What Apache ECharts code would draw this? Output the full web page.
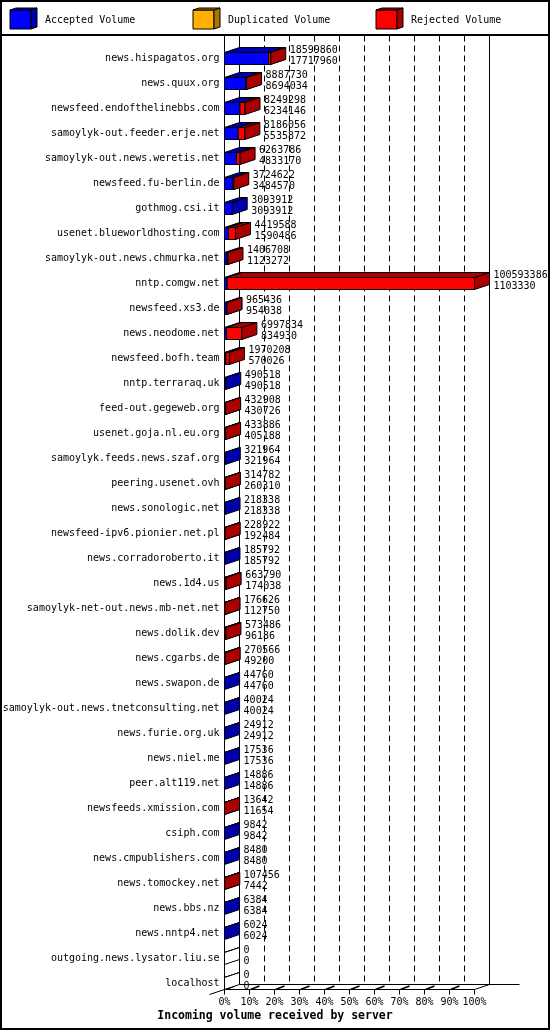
<!DOCTYPE html>
<html><head><meta charset="utf-8">
<script src="https://cdn.jsdelivr.net/npm/echarts@6/dist/echarts.min.js"></script>
<style>html,body{margin:0;padding:0;background:#fff}#c{width:550px;height:1030px}</style>
</head><body><div id="c"></div>
<script>
const categories = [
  'news.hispagatos.org','news.quux.org','newsfeed.endofthelinebbs.com','samoylyk-out.feeder.erje.net',
  'samoylyk-out.news.weretis.net','newsfeed.fu-berlin.de','gothmog.csi.it','usenet.blueworldhosting.com',
  'samoylyk-out.news.chmurka.net','nntp.comgw.net','newsfeed.xs3.de','news.neodome.net',
  'newsfeed.bofh.team','nntp.terraraq.uk','feed-out.gegeweb.org','usenet.goja.nl.eu.org',
  'samoylyk.feeds.news.szaf.org','peering.usenet.ovh','news.sonologic.net','newsfeed-ipv6.pionier.net.pl',
  'news.corradoroberto.it','news.1d4.us','samoylyk-net-out.news.mb-net.net','news.dolik.dev',
  'news.cgarbs.de','news.swapon.de','samoylyk-out.news.tnetconsulting.net','news.furie.org.uk',
  'news.niel.me','peer.alt119.net','newsfeeds.xmission.com','csiph.com',
  'news.cmpublishers.com','news.tomockey.net','news.bbs.nz','news.nntp4.net',
  'outgoing.news.lysator.liu.se','localhost'
];
const totalVolume = [
  18599860, 8887730, 8249298, 8186056,
  6263786, 3724622, 3093912, 4419588,
  1406708, 100593386, 965436, 6997834,
  1970208, 490518, 432908, 433886,
  321964, 314782, 218338, 228922,
  185792, 663790, 176626, 573486,
  270566, 44760, 40024, 24912,
  17536, 14886, 13642, 9842,
  8480, 107456, 6384, 6024,
  0, 0
];
const acceptedVolume = [
  17717960, 8694034, 6234146, 5535872,
  4833170, 3484570, 3093912, 1590486,
  1123272, 1103330, 954038, 834930,
  570026, 490518, 430726, 405188,
  321964, 260310, 218338, 192484,
  185792, 174038, 112750, 96186,
  49200, 44760, 40024, 24912,
  17536, 14886, 11654, 9842,
  8480, 7442, 6384, 6024,
  0, 0
];
const duplicatedVolume = [
  0,0,0,0, 0,0,0,0, 0,0,0,0, 0,0,0,0, 0,0,0,0,
  0,0,0,0, 0,0,0,0, 0,0,0,0, 0,0,0,0, 0,0
];
const percentTicks = ['0%','10%','20%','30%','40%','50%','60%','70%','80%','90%','100%'];
const seriesNames = ['Accepted Volume','Duplicated Volume','Rejected Volume'];
const axisTitle = 'Incoming volume received by server';

const FRONT = ['#0000ff','#ffb000','#ff0000'];
const DARK = ['#0000aa','#aa7500','#aa0000'];
const DX = 15, DY = -5, HALF = 6;
const FONT = '"DejaVu Sans Mono", "Liberation Mono", monospace';

const maxVol = Math.max.apply(null, totalVolume);
const pct = v => v / maxVol * 100;
const barData = categories.map((c, i) => [
  pct(totalVolume[i]), i, pct(acceptedVolume[i]), pct(duplicatedVolume[i]), totalVolume[i], acceptedVolume[i]
]);

const ST = {stroke:'#000', lineWidth:1};
function box(x0, x1, yt, yb, front, dark) {
  return [
    {type:'rect', shape:{x:x0, y:yt, width:x1-x0, height:yb-yt}, style:Object.assign({fill:front}, ST)},
    {type:'polygon', shape:{points:[[x0,yt],[x1,yt],[x1+DX,yt+DY],[x0+DX,yt+DY]]}, style:Object.assign({fill:dark}, ST)},
    {type:'polygon', shape:{points:[[x1,yt],[x1,yb],[x1+DX,yb+DY],[x1+DX,yt+DY]]}, style:Object.assign({fill:dark}, ST)}
  ];
}

function renderBar(params, api) {
  const t = api.value(0), i = api.value(1), a = api.value(2), d = api.value(3);
  const p0 = api.coord([0, i]);
  const x0 = p0[0], yc = p0[1];
  const xa = api.coord([a, i])[0], xd = api.coord([a + d, i])[0], xt = api.coord([t, i])[0];
  const yt = yc - HALF, yb = yc + HALF;
  let children = [];
  const segs = [[x0, xa, a > 0, 0], [xa, xd, d > 0, 1], [xd, xt, (t - a - d) > 1e-12, 2]];
  let any = false;
  segs.forEach(s => {
    if (s[2]) { any = true; children = children.concat(box(s[0], s[1], yt, yb, FRONT[s[3]], DARK[s[3]])); }
  });
  if (!any) children = children.concat(box(x0, x0, yt, yb, '#fff', '#fff'));
  const tx = xt + DX + 4;
  children.push({type:'text', style:{text:String(api.value(4)), x:tx, y:yc - 8.5, fill:'#000', font:'10px ' + FONT, align:'left', verticalAlign:'middle'}});
  children.push({type:'text', style:{text:String(api.value(5)), x:tx, y:yc + 2.5, fill:'#000', font:'10px ' + FONT, align:'left', verticalAlign:'middle'}});
  return {type:'group', children: children};
}

function renderFrame(params, api) {
  const n = categories.length;
  const X = v => api.coord([v, 0])[0];
  const yTop = api.coord([0, 0])[1];
  const yBot = api.coord([0, n - 1])[1];
  const backTop = yTop - 23;
  const frontBase = yBot + HALF;
  const backBase = frontBase + DY;
  const ln = (x1, y1, x2, y2, extra) => ({type:'line', shape:{x1, y1, x2, y2}, style:Object.assign({stroke:'#000', lineWidth:1}, extra || {})});
  const ch = [];
  for (let k = 1; k <= 9; k++) {
    const x = X(k * 10) + DX;
    ch.push(ln(x, backTop, x, backBase, {lineDash:[6,4]}));
  }
  ch.push(ln(X(0) + DX, backTop, X(0) + DX, backBase));
  ch.push(ln(X(100) + DX, backTop, X(100) + DX, backBase));
  ch.push(ln(X(0), backTop, X(0), frontBase));
  ch.push(ln(X(0), frontBase, X(100), frontBase));
  ch.push(ln(X(0) + DX, backBase, X(100) + DX + 30, backBase));
  ch.push(ln(X(100), frontBase, X(100) + DX, backBase));
  ch.push(ln(X(0) - DX, frontBase - DY, X(0), frontBase));
  for (let k = 0; k <= 10; k++) {
    const x = X(k * 10);
    ch.push(ln(x, frontBase, x, frontBase + 5));
    if (k < 10) ch.push(ln(x + 1, frontBase, x + 10, frontBase - 3.5, {lineWidth:1.5}));
  }
  return {type:'group', children: ch};
}

const legendGraphics = [];
seriesNames.forEach((name, j) => {
  const x = 10 + 183 * j, y = 10, w = 21, h = 19, dx = 6, dy = -2;
  legendGraphics.push({type:'rect', shape:{x, y, width:w, height:h}, style:{fill:FRONT[j], stroke:'#000', lineWidth:1}});
  legendGraphics.push({type:'polygon', shape:{points:[[x+w,y],[x+w,y+h],[x+w+dx,y+h+dy],[x+w+dx,y+dy]]}, style:{fill:DARK[j], stroke:'#000', lineWidth:1}});
  legendGraphics.push({type:'polygon', shape:{points:[[x,y],[x+w,y],[x+w+dx,y+dy],[x+dx,y+dy]]}, style:{fill:DARK[j], stroke:'#000', lineWidth:1}});
  legendGraphics.push({type:'text', style:{text:name, x:x + 35, y:20, fill:'#000', font:'10px ' + FONT, align:'left', verticalAlign:'middle'}});
});
legendGraphics.push({type:'line', shape:{x1:0, y1:35, x2:550, y2:35}, style:{stroke:'#000', lineWidth:2}});
legendGraphics.push({type:'rect', shape:{x:1, y:1, width:548, height:1028}, style:{fill:'none', stroke:'#000', lineWidth:2}, z:100});

const chart = echarts.init(document.getElementById('c'), null, {renderer:'canvas'});
chart.setOption({
  animation: false,
  backgroundColor: '#fff',
  title: {
    text: axisTitle, left: 'center', top: 1010, padding: 0,
    textStyle: {fontFamily: FONT, fontWeight: 'bold', fontSize: 11.5, color: '#000'}
  },
  grid: {left: 224.5, top: 46, width: 250, height: 950, containLabel: false, outerBoundsMode: 'none'},
  xAxis: {
    type: 'value', min: 0, max: 100, interval: 10,
    axisLine: {show: false}, axisTick: {show: false}, splitLine: {show: false},
    axisLabel: {margin: 1, fontFamily: FONT, fontSize: 10, color: '#000', formatter: v => percentTicks[Math.round(v / 10)]}
  },
  yAxis: {
    type: 'category', data: categories, inverse: true,
    axisLine: {show: false}, axisTick: {show: false}, splitLine: {show: false},
    axisLabel: {interval: 0, margin: 5, fontFamily: FONT, fontSize: 10, color: '#000'}
  },
  graphic: legendGraphics,
  series: [
    {type: 'custom', name: 'frame', data: [[0, 0]], encode: {x: 0, y: 1}, renderItem: renderFrame, z: 1, silent: true, clip: false},
    {type: 'custom', name: 'volume', data: barData, encode: {x: 0, y: 1}, renderItem: renderBar, z: 2, clip: false}
  ]
});
</script>
</body></html>
